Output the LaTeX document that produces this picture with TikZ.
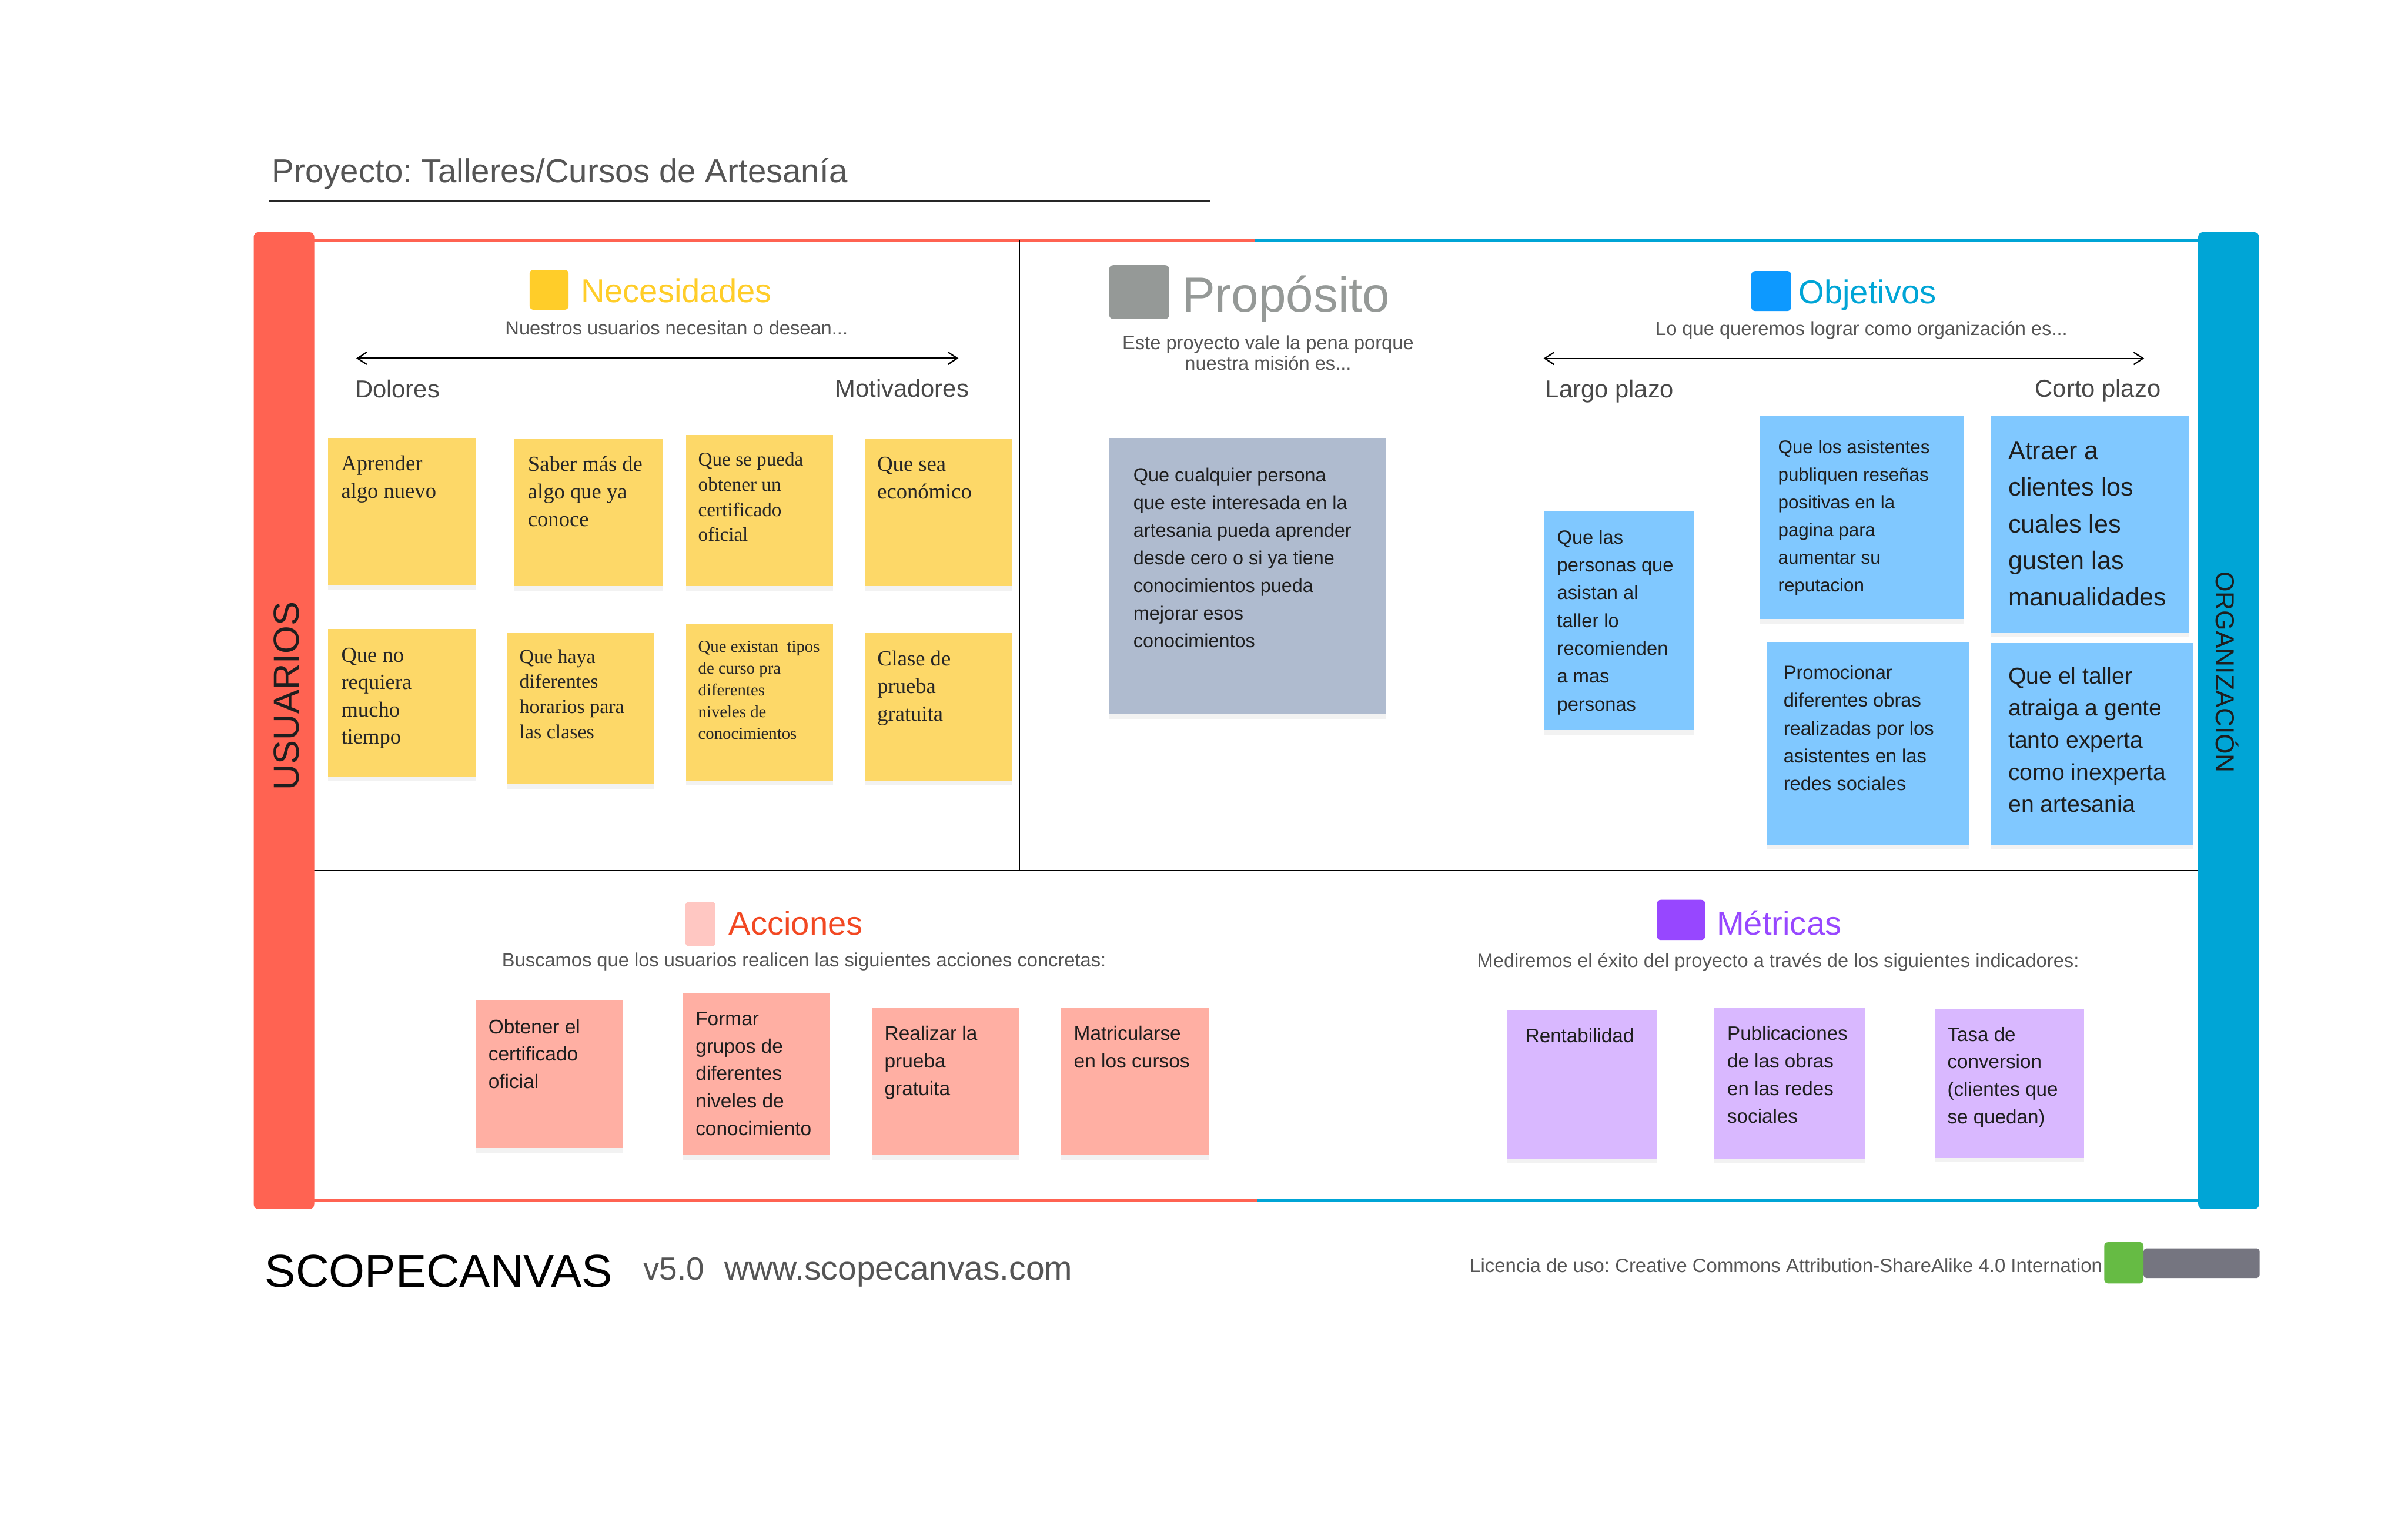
\documentclass[tikz,border=0pt]{standalone}
\usepackage{fontspec}
\setmainfont{Liberation Sans}
\newfontfamily\serifface{Liberation Serif}
\usetikzlibrary{arrows.meta,shadows}
\frenchspacing
\definecolor{cRed}{HTML}{FF6352}
\definecolor{cBlue}{HTML}{00A5D6}
\definecolor{cText}{HTML}{555555}
\definecolor{cInk}{HTML}{1E1E1E}
\definecolor{stYellow}{HTML}{FDD868}
\definecolor{stGrey}{HTML}{AFBBCF}
\definecolor{stBlue}{HTML}{80C8FF}
\definecolor{stPink}{HTML}{FFAFA3}
\definecolor{stPurple}{HTML}{D9B8FF}
\definecolor{hYellow}{HTML}{FFCD29}
\definecolor{hGrey}{HTML}{959997}
\definecolor{hBlueSq}{HTML}{0D99FF}
\definecolor{hBlueTx}{HTML}{00A5D6}
\definecolor{hPinkSq}{HTML}{FFC7C2}
\definecolor{hRedTx}{HTML}{F24822}
\definecolor{hPurple}{HTML}{9747FF}
\definecolor{cGreen}{HTML}{66BB44}
\definecolor{cSlate}{HTML}{757580}
\newcommand{\fz}[2]{\fontsize{#1pt}{#2pt}\selectfont}
\begin{document}
\begin{tikzpicture}[x=1pt,y=-1pt,
  sticky/.style={rectangle, inner sep=0pt, outer sep=0pt, anchor=north west,
    drop shadow={opacity=0.10, shadow xshift=0pt, shadow yshift=-3pt}},
  stxt/.style={anchor=base west, inner sep=0pt, align=left, text=cInk},
  ytxt/.style={stxt, text=black!85, font=\serifface\fz{14}{18}},
  sq/.style={rectangle, rounded corners=2.5pt, inner sep=0pt, anchor=north west},
  head/.style={anchor=base west, inner sep=0pt, font=\fz{21.5}{24}},
  sub/.style={anchor=base, inner sep=0pt, text=cText, font=\fz{12.5}{13.5}, align=center},
  axis/.style={anchor=base, inner sep=0pt, text=cText!85!black, font=\fz{16}{18}},
  dbl/.style={{Straight Barb[length=6pt,width=8pt]}-{Straight Barb[length=6pt,width=8pt]}, line width=0.9pt},
  divider/.style={line width=0.6pt, black},
  edge/.style={line width=1.6pt}
]
\useasboundingbox (0,0) rectangle (1567.8,1000);
\fill[white] (0,0) rectangle (1567.8,1000);

% title
\node[anchor=base west, inner sep=0pt, text=cText, font=\fz{21.6}{24}] (title) at (177,118.8) {Proyecto: Talleres/Cursos de Artesanía};
\coordinate (ulA) at (175,131);
\coordinate (ulB) at (788,131);
\draw[line width=0.8pt, black!85] (ulA) -- (ulB);

% frame lines
\draw[edge, cRed] (204,156.4) -- (817,156.4);
\draw[edge, cBlue] (817,156.4) -- (1431,156.4);
\draw[edge, cRed] (204,781.5) -- (818.5,781.5);
\draw[edge, cBlue] (818.5,781.5) -- (1431,781.5);
\draw[divider] (204,566.7) -- (1431,566.7);
\draw[divider] (663.7,156.4) -- (663.7,566.7);
\draw[divider] (964.3,156.4) -- (964.3,566.7);
\draw[divider] (818.5,566.7) -- (818.5,781.5);

% side bars
\node[rectangle, rounded corners=3pt, fill=cRed, inner sep=0pt, minimum width=39.4pt, minimum height=636pt, anchor=north west] (usrbar) at (165,151) {};
\node[rectangle, rounded corners=3pt, fill=cBlue, inner sep=0pt, minimum width=39.6pt, minimum height=636pt, anchor=north west] (orgbar) at (1431,151) {};
\node[anchor=base, rotate=90, inner sep=0pt, text=cInk, font=\fz{23.5}{26}] (usr) at (194.5,453.2) {USUARIOS};
\node[anchor=base, rotate=-90, inner sep=0pt, text=cInk, font=\fz{17}{20}] (org) at (1442.8,437.7) {ORGANIZACIÓN};

% headings
\node[sq, fill=hYellow, minimum width=25.4pt, minimum height=26pt] (necSq) at (344.6,175.5) {};
\node[head, text=hYellow] (necH) at (378,197) {Necesidades};
\node[sub] (necS) at (440.5,218) {Nuestros usuarios necesitan o desean...};

\node[sq, fill=hGrey, minimum width=39pt, minimum height=35pt] (proSq) at (722,172.5) {};
\node[head, text=hGrey, font=\fz{32}{36}] (proH) at (769.6,203) {Propósito};
\node[sub] (proS) at (825.6,241) {Este proyecto vale la pena porque\\nuestra misión es...};

\node[sq, fill=hBlueSq, minimum width=26pt, minimum height=26pt] (objSq) at (1140,176.3) {};
\node[head, text=hBlueTx] (objH) at (1170.8,197.7) {Objetivos};
\node[sub] (objS) at (1212,218.4) {Lo que queremos lograr como organización es...};

\node[sq, fill=hPinkSq, minimum width=19.6pt, minimum height=29pt] (accSq) at (446,587) {};
\node[head, text=hRedTx] (accH) at (474.3,608.8) {Acciones};
\node[sub] (accS) at (523.5,629.5) {Buscamos que los usuarios realicen las siguientes acciones concretas:};

\node[sq, fill=hPurple, minimum width=31.4pt, minimum height=26.2pt] (metSq) at (1078.6,585.7) {};
\node[head, text=hPurple] (metH) at (1117.5,608.8) {Métricas};
\node[sub] (metS) at (1157.7,629.7) {Mediremos el éxito del proyecto a través de los siguientes indicadores:};

% axes
\coordinate (necL) at (232,233.3);
\coordinate (necR) at (624,233.3);
\draw[dbl] (necL) -- (necR);
\node[axis, anchor=base west] (dol) at (231,259) {Dolores};
\node[axis, anchor=base east] (mot) at (631,258.6) {Motivadores};
\coordinate (objL) at (1005,233.4);
\coordinate (objR) at (1396,233.4);
\draw[dbl] (objL) -- (objR);
\node[axis, anchor=base west] (lar) at (1006,259) {Largo plazo};
\node[axis, anchor=base east] (cor) at (1407,258.6) {Corto plazo};

% Necesidades stickies
\node[sticky, fill=stYellow, minimum width=96.2pt, minimum height=96pt] (n1) at (213.5,285) {};
\node[sticky, fill=stYellow, minimum width=96.4pt, minimum height=96pt] (n2) at (335,285.6) {};
\node[sticky, fill=stYellow, minimum width=96pt, minimum height=98.4pt] (n3) at (446.5,283.4) {};
\node[sticky, fill=stYellow, minimum width=96pt, minimum height=96pt] (n4) at (563,285.6) {};
\node[sticky, fill=stYellow, minimum width=96.2pt, minimum height=95.8pt] (n5) at (213.5,409.7) {};
\node[sticky, fill=stYellow, minimum width=96pt, minimum height=98.5pt] (n6) at (330,412) {};
\node[sticky, fill=stYellow, minimum width=96pt, minimum height=101.7pt] (n7) at (446.5,406.6) {};
\node[sticky, fill=stYellow, minimum width=96pt, minimum height=96.3pt] (n8) at (563,412) {};
\node[ytxt] (n1t) at (222,324.3) {Aprender\\algo nuevo};
\node[ytxt] (n2t) at (343.5,342.7) {Saber más de\\algo que ya\\conoce};
\node[ytxt, font=\serifface\fz{12.7}{16.4}] (n3t) at (454.4,352.5) {Que se pueda\\obtener un\\certificado\\oficial};
\node[ytxt] (n4t) at (571,324.7) {Que sea\\económico};
\node[ytxt, font=\serifface\fz{14}{17.8}] (n5t) at (222,484.4) {Que no\\requiera\\mucho\\tiempo};
\node[ytxt, font=\serifface\fz{13}{16.4}] (n6t) at (338,481) {Que haya\\diferentes\\horarios para\\las clases};
\node[ytxt, font=\serifface\fz{11}{14.1}] (n7t) at (454.4,481.2) {Que existan\ \ tipos\\de curso pra\\diferentes\\niveles de\\conocimientos};
\node[ytxt] (n8t) at (571,469.3) {Clase de\\prueba\\gratuita};

% Proposito sticky
\node[sticky, fill=stGrey, minimum width=180.7pt, minimum height=180pt] (p1) at (722,285) {};
\node[stxt, font=\fz{12.4}{18}] (p1t) at (737.7,421.6) {Que cualquier persona\\que este interesada en la\\artesania pueda aprender\\desde cero o si ya tiene\\conocimientos pueda\\mejorar esos\\conocimientos};

% Objetivos stickies
\node[sticky, fill=stBlue, minimum width=97.5pt, minimum height=142.4pt] (o1) at (1005.5,333) {};
\node[sticky, fill=stBlue, minimum width=132.5pt, minimum height=132.4pt] (o2) at (1146,270.6) {};
\node[sticky, fill=stBlue, minimum width=128.6pt, minimum height=141.4pt] (o3) at (1296.4,270.6) {};
\node[sticky, fill=stBlue, minimum width=132.3pt, minimum height=132pt] (o4) at (1150,418) {};
\node[sticky, fill=stBlue, minimum width=131.6pt, minimum height=131.4pt] (o5) at (1296.4,418.6) {};
\node[stxt, font=\fz{12.5}{18.1}] (o1t) at (1013.6,462.8) {Que las\\personas que\\asistan al\\taller lo\\recomienden\\a mas\\personas};
\node[stxt, font=\fz{12}{18}] (o2t) at (1157.5,385.2) {Que los asistentes\\publiquen reseñas\\positivas en la\\pagina para\\aumentar su\\reputacion};
\node[stxt, font=\fz{16.5}{23.9}] (o3t) at (1307.4,394.6) {Atraer a\\clientes los\\cuales les\\gusten las\\manualidades};
\node[stxt, font=\fz{12.5}{18.1}] (o4t) at (1161,514.7) {Promocionar\\diferentes obras\\realizadas por los\\asistentes en las\\redes sociales};
\node[stxt, font=\fz{15}{20.9}] (o5t) at (1307.4,528.9) {Que el taller\\atraiga a gente\\tanto experta\\como inexperta\\en artesania};

% Acciones stickies
\node[sticky, fill=stPink, minimum width=96.2pt, minimum height=96pt] (a1) at (309.7,651.6) {};
\node[sticky, fill=stPink, minimum width=96.1pt, minimum height=105.9pt] (a2) at (444.3,646.4) {};
\node[sticky, fill=stPink, minimum width=96.1pt, minimum height=96pt] (a3) at (567.5,656.2) {};
\node[sticky, fill=stPink, minimum width=96.2pt, minimum height=96pt] (a4) at (690.8,656.2) {};
\node[stxt, font=\fz{12.8}{17.85}] (a1t) at (317.8,708.7) {Obtener el\\certificado\\oficial};
\node[stxt, font=\fz{12.8}{17.9}] (a2t) at (452.7,739.3) {Formar\\grupos de\\diferentes\\niveles de\\conocimiento};
\node[stxt, font=\fz{12.8}{17.9}] (a3t) at (575.7,713.2) {Realizar la\\prueba\\gratuita};
\node[stxt, font=\fz{12.8}{17.9}] (a4t) at (699,695.3) {Matricularse\\en los cursos};

% Metricas stickies
\node[sticky, fill=stPurple, minimum width=97.1pt, minimum height=96.9pt] (m1) at (981.5,657.6) {};
\node[sticky, fill=stPurple, minimum width=98.6pt, minimum height=98.3pt] (m2) at (1116,656.2) {};
\node[sticky, fill=stPurple, minimum width=97.2pt, minimum height=96.9pt] (m3) at (1259.5,657) {};
\node[stxt, font=\fz{12.7}{17.9}] (m1t) at (993,678.7) {Rentabilidad};
\node[stxt, font=\fz{12.7}{17.9}] (m2t) at (1124.4,731.1) {Publicaciones\\de las obras\\en las redes\\sociales};
\node[stxt, font=\fz{12.7}{17.9}] (m3t) at (1267.7,731.6) {Tasa de\\conversion\\(clientes que\\se quedan)};

% footer
\node[anchor=base west, inner sep=0pt, text=black, font=\fz{30}{34}] (brand) at (172.4,838) {SCOPECANVAS};
\node[anchor=base west, inner sep=0pt, text=cText, font=\fz{21}{24}] (ver) at (418.6,833.6) {v5.0};
\node[anchor=base west, inner sep=0pt, text=cText, font=\fz{21.8}{24}] (web) at (471.5,833.6) {www.scopecanvas.com};
\node[anchor=base west, inner sep=0pt, text=cText, font=\fz{12.6}{14}] (lic) at (956.8,828.3) {Licencia de uso: Creative Commons Attribution-ShareAlike 4.0 Internation};
\node[rectangle, rounded corners=2pt, fill=cSlate, inner sep=0pt, minimum width=75.6pt, minimum height=19.4pt, anchor=north west] (ccgrey) at (1395.4,812.6) {};
\node[rectangle, rounded corners=2.5pt, fill=cGreen, inner sep=0pt, minimum width=25.6pt, minimum height=26.9pt, anchor=north west] (ccgreen) at (1369.8,808.6) {};
\end{tikzpicture}
\end{document}
